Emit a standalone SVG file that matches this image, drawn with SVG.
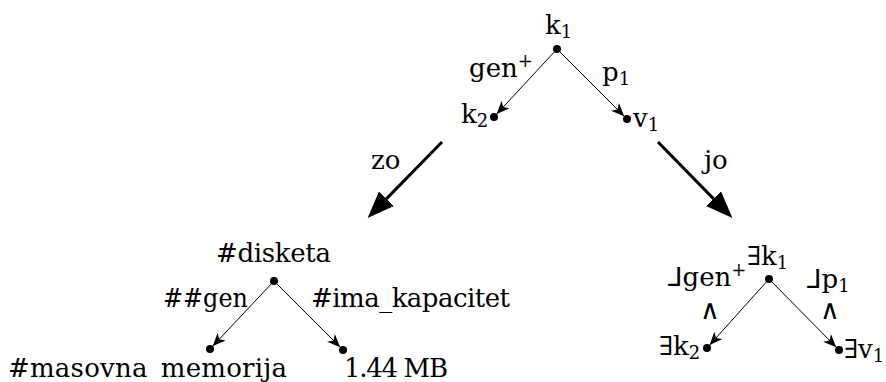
<svg xmlns="http://www.w3.org/2000/svg" width="886" height="382" viewBox="0 0 886 382">
<defs>
<style>
text{font-family:"DejaVu Serif","Liberation Serif",serif;font-size:26px;fill:#000}
.sub{font-size:18px}
.sup{font-size:18px}
.wedge{font-size:27px}
.dot{fill:#000}
.thin{stroke:#000;stroke-width:1;fill:none}
.thick{stroke:#000;stroke-width:3;fill:none}
</style>
<marker id="ah" markerUnits="userSpaceOnUse" markerWidth="20" markerHeight="12" refX="17" refY="5.5" orient="auto" viewBox="0 0 20 12">
<path d="M0,0 L13,5.5 L0,11 L3.5,5.5 z" fill="#000"/>
</marker>
<marker id="big" markerUnits="userSpaceOnUse" markerWidth="30" markerHeight="22" refX="17" refY="10.5" orient="auto" viewBox="0 0 30 22">
<path d="M0,0 L27,10.5 L0,21 z" fill="#000"/>
</marker>
</defs>
<g id="connectors">
<line class="thin" x1="557" y1="49" x2="494" y2="117" marker-end="url(#ah)"/>
<line class="thin" x1="557" y1="49" x2="627" y2="119" marker-end="url(#ah)"/>
<line class="thick" x1="442" y1="142" x2="374.6" y2="210.9" marker-end="url(#big)"/>
<line class="thick" x1="658" y1="142" x2="725.4" y2="210.9" marker-end="url(#big)"/>
<line class="thin" x1="274" y1="281" x2="210" y2="349" marker-end="url(#ah)"/>
<line class="thin" x1="274" y1="281" x2="343" y2="350" marker-end="url(#ah)"/>
<line class="thin" x1="769" y1="279" x2="707" y2="348" marker-end="url(#ah)"/>
<line class="thin" x1="769" y1="279" x2="839" y2="350" marker-end="url(#ah)"/>
<text x="469" y="77">gen<tspan class="sup" dy="-10">+</tspan></text>
<text x="602" y="81">p<tspan class="sub" dy="4">1</tspan></text>
<text x="371" y="169">zo</text>
<text x="704" y="169">jo</text>
<text x="163" y="307" textLength="85" lengthAdjust="spacingAndGlyphs">##gen</text>
<text x="311" y="307" textLength="199" lengthAdjust="spacing">#ima_kapacitet</text>
<text x="668" y="286">⅃gen<tspan class="sup" dy="-10">+</tspan></text>
<text class="wedge" x="710" y="319" text-anchor="middle">∧</text>
<text x="807" y="288">⅃p<tspan class="sub" dy="4">1</tspan></text>
<text class="wedge" x="830" y="319" text-anchor="middle">∧</text>
</g>
<g id="n-k1">
<circle class="dot" cx="557" cy="49" r="4"/>
<text x="545" y="34">k<tspan class="sub" dy="4">1</tspan></text>
</g>
<g id="n-k2">
<circle class="dot" cx="494" cy="117" r="4"/>
<text x="461" y="123">k<tspan class="sub" dy="4">2</tspan></text>
</g>
<g id="n-v1">
<circle class="dot" cx="627" cy="119" r="4"/>
<text x="633" y="127">v<tspan class="sub" dy="4">1</tspan></text>
</g>
<g id="n-disketa">
<circle class="dot" cx="274" cy="281" r="4"/>
<text x="216" y="262" textLength="115" lengthAdjust="spacing">#disketa</text>
</g>
<g id="n-masovna">
<circle class="dot" cx="210" cy="349" r="4"/>
<text x="8" y="377" textLength="279" lengthAdjust="spacing">#masovna_memorija</text>
</g>
<g id="n-144">
<circle class="dot" cx="343" cy="350" r="4"/>
<text x="344" y="377" textLength="104" lengthAdjust="spacing">1.44 MB</text>
</g>
<g id="n-ek1">
<circle class="dot" cx="769" cy="279" r="4"/>
<text x="747" y="265">∃k<tspan class="sub" dy="4">1</tspan></text>
</g>
<g id="n-ek2">
<circle class="dot" cx="707" cy="348" r="4"/>
<text x="659" y="355">∃k<tspan class="sub" dy="4">2</tspan></text>
</g>
<g id="n-ev1">
<circle class="dot" cx="839" cy="350" r="4"/>
<text x="844" y="358">∃v<tspan class="sub" dy="4">1</tspan></text>
</g>
</svg>
